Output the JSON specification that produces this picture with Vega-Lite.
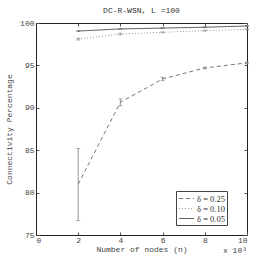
{
  "$schema": "https://vega.github.io/schema/vega-lite/v6.json",
  "width": 211,
  "height": 212,
  "autosize": {"type": "none"},
  "padding": {"left": 36, "top": 23, "right": 26, "bottom": 31},
  "background": "white",
  "title": {"text": "DC-R-WSN, L =100", "font": "Liberation Mono", "fontSize": 8, "fontWeight": "normal", "color": "#333", "offset": 4},
  "config": {
    "view": {"stroke": "#222", "strokeWidth": 1},
    "axis": {"labelFont": "Liberation Mono", "labelFontSize": 8, "labelColor": "#444", "titleFont": "Liberation Mono", "titleFontSize": 8, "titleFontWeight": "normal", "titleColor": "#444", "grid": false, "domainColor": "#222", "tickColor": "#555", "tickSize": -3}
  },
  "datasets": {
    "d": [
      {"series": "δ = 0.25", "n": 2, "mean": 81.0, "lo": 76.7, "hi": 85.2},
      {"series": "δ = 0.25", "n": 4, "mean": 90.65, "lo": 90.25, "hi": 91.05},
      {"series": "δ = 0.25", "n": 6, "mean": 93.4, "lo": 93.2, "hi": 93.6},
      {"series": "δ = 0.25", "n": 8, "mean": 94.7, "lo": 94.6, "hi": 94.8},
      {"series": "δ = 0.25", "n": 10, "mean": 95.3, "lo": 95.2, "hi": 95.4},
      {"series": "δ = 0.10", "n": 2, "mean": 98.1, "lo": 98.0, "hi": 98.2},
      {"series": "δ = 0.10", "n": 4, "mean": 98.7, "lo": 98.6, "hi": 98.8},
      {"series": "δ = 0.10", "n": 6, "mean": 98.9, "lo": 98.85, "hi": 98.95},
      {"series": "δ = 0.10", "n": 8, "mean": 99.1, "lo": 99.05, "hi": 99.15},
      {"series": "δ = 0.10", "n": 10, "mean": 99.25, "lo": 99.2, "hi": 99.3},
      {"series": "δ = 0.05", "n": 2, "mean": 99.05, "lo": 99.0, "hi": 99.1},
      {"series": "δ = 0.05", "n": 4, "mean": 99.3, "lo": 99.25, "hi": 99.35},
      {"series": "δ = 0.05", "n": 6, "mean": 99.4, "lo": 99.35, "hi": 99.45},
      {"series": "δ = 0.05", "n": 8, "mean": 99.5, "lo": 99.45, "hi": 99.55},
      {"series": "δ = 0.05", "n": 10, "mean": 99.65, "lo": 99.6, "hi": 99.7}
    ],
    "note": [{"t": "x 10³", "x": 10, "y": 73.1}]
  },
  "resolve": {"axis": {"x": "independent", "y": "independent"}},
  "layer": [
    {
      "data": {"name": "d"},
      "mark": {"type": "rule", "color": "#999", "strokeWidth": 1},
      "encoding": {
        "x": {"field": "n", "type": "quantitative", "scale": {"domain": [0, 10]}, "axis": {"title": "Number of nodes (n)", "values": [0, 2, 4, 6, 8, 10], "labelPadding": 4, "titleY": 10, "titlePadding": 0}},
        "y": {"field": "lo", "type": "quantitative", "scale": {"domain": [75, 100]}, "axis": {"title": "Connectivity Percentage", "values": [75, 80, 85, 90, 95, 100], "labelPadding": 5, "titlePadding": 6}},
        "y2": {"field": "hi"}
      }
    },
    {
      "data": {"name": "d"},
      "mark": {"type": "tick", "color": "#888", "size": 4, "thickness": 1, "orient": "horizontal"},
      "encoding": {
        "x": {"field": "n", "type": "quantitative", "scale": {"domain": [0, 10]}, "axis": {"orient": "top", "labels": false, "title": null, "values": [0, 2, 4, 6, 8, 10], "domain": false}},
        "y": {"field": "lo", "type": "quantitative", "scale": {"domain": [75, 100]}, "axis": {"orient": "right", "labels": false, "title": null, "values": [75, 80, 85, 90, 95, 100], "domain": false}}
      }
    },
    {
      "data": {"name": "d"},
      "mark": {"type": "tick", "color": "#888", "size": 4, "thickness": 1, "orient": "horizontal"},
      "encoding": {
        "x": {"field": "n", "type": "quantitative", "scale": {"domain": [0, 10]}, "axis": null},
        "y": {"field": "hi", "type": "quantitative", "scale": {"domain": [75, 100]}, "axis": null}
      }
    },
    {
      "data": {"name": "d"},
      "mark": {"type": "line", "strokeWidth": 1},
      "encoding": {
        "x": {"field": "n", "type": "quantitative", "scale": {"domain": [0, 10]}, "axis": null},
        "y": {"field": "mean", "type": "quantitative", "scale": {"domain": [75, 100]}, "axis": null},
        "color": {"field": "series", "type": "nominal", "sort": ["δ = 0.25", "δ = 0.10", "δ = 0.05"], "scale": {"domain": ["δ = 0.25", "δ = 0.10", "δ = 0.05"], "range": ["#777", "#999", "#555"]},
          "legend": {"title": null, "orient": "none", "legendX": 140, "legendY": 168, "symbolType": "M-1.6,0H1.6", "symbolSize": 90, "symbolStrokeWidth": 1, "labelFont": "Liberation Serif", "labelFontSize": 8.5, "labelColor": "#333", "rowPadding": 0, "padding": 2, "fillColor": "white", "strokeColor": "#444", "labelOffset": 5, "symbolOffset": 3}},
        "strokeDash": {"field": "series", "type": "nominal", "sort": ["δ = 0.25", "δ = 0.10", "δ = 0.05"], "scale": {"domain": ["δ = 0.25", "δ = 0.10", "δ = 0.05"], "range": [[4, 3], [1, 2], [1, 0]]}, "legend": null}
      }
    },
    {
      "data": {"name": "note"},
      "mark": {"type": "text", "font": "Liberation Mono", "fontSize": 8, "color": "#444", "align": "right", "baseline": "middle", "clip": false},
      "encoding": {
        "x": {"field": "x", "type": "quantitative", "scale": {"domain": [0, 10]}, "axis": null},
        "y": {"field": "y", "type": "quantitative", "scale": {"domain": [75, 100]}, "axis": null},
        "text": {"field": "t"}
      }
    }
  ]
}
